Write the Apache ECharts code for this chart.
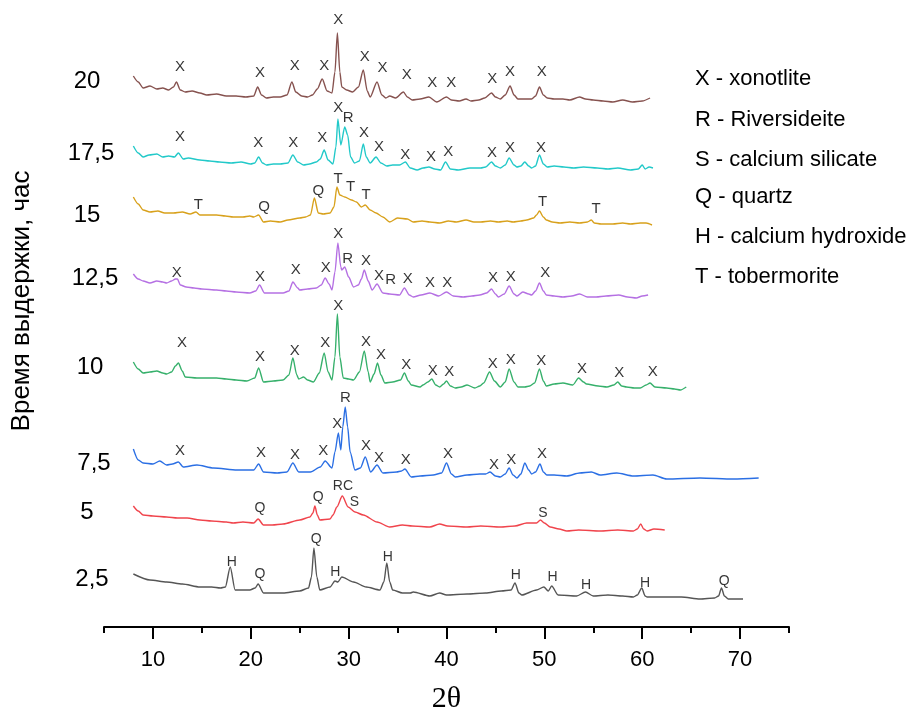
<!DOCTYPE html>
<html>
<head>
<meta charset="utf-8">
<script src="https://cdn.jsdelivr.net/npm/echarts@6/dist/echarts.min.js"></script>
<style>
html,body{margin:0;padding:0;background:#fff;}
#chart{width:915px;height:719px;}
</style>
</head>
<body>
<div id="chart"></div>
<script>
// ---- axis ticks ----
const majorTicks = [10, 20, 30, 40, 50, 60, 70];
const minorTicks = [5, 15, 25, 35, 45, 55, 65, 75];

// ---- sample labels (hours) ----
const sampleLabels = ['20', '17,5', '15', '12,5', '10', '7,5', '5', '2,5'];

// ---- legend lines ----
const phaseLegend = ['X - xonotlite', 'R - Riversideite', 'S - calcium silicate', 'Q - quartz', 'H - calcium hydroxide', 'T - tobermorite'];

// ---- diffractograms: [2theta, intensity (a.u., stacked)] ----
const pattern20 = [[8.0,551],[8.5,545],[9.0,539],[9.7,541],[10.4,538],[11.0,539],[11.6,537],[12.1,540],[12.4,545],[12.8,537],[13.3,535],[14.0,536],[14.8,534],[15.5,532],[16.5,533],[17.5,531],[18.5,531],[19.5,530],[20.3,531],[20.7,540],[21.1,532],[21.6,529],[22.3,530],[23.0,530],[23.7,532],[24.2,545],[24.6,535],[25.2,531],[25.8,530],[26.3,532],[26.8,538],[27.3,548],[27.8,536],[28.3,534],[28.6,555],[28.85,594],[29.1,555],[29.3,540],[29.8,537],[30.4,535],[31.0,540],[31.5,557],[31.9,536],[32.2,530],[32.9,545],[33.4,532],[33.8,529],[34.2,531],[34.8,529],[35.6,535],[36.0,530],[36.5,527],[37.3,528],[38.2,530],[39.0,525],[40.0,530],[40.5,527],[41.3,526],[42.0,528],[42.5,526],[43.3,527],[43.9,529],[44.6,534],[45.0,530],[45.5,528],[46.0,532],[46.5,541],[46.9,532],[47.3,528],[48.0,528],[48.7,528],[49.1,531],[49.5,540],[49.9,532],[50.3,529],[51.0,528],[51.9,528],[52.6,527],[53.6,530],[54.2,528],[55.0,527],[56.0,526],[57.0,525],[58.0,527],[59.0,525],[60.0,526],[60.8,529]];

const pattern17_5 = [[8.0,481],[8.5,474],[9.0,470],[9.6,472],[10.4,473],[11.0,470],[11.6,471],[12.2,470],[12.6,474],[13.1,468],[13.6,469],[14.8,467],[15.8,466],[16.8,465],[18.0,464],[19.0,465],[20.0,463],[20.4,464],[20.8,470],[21.2,464],[21.6,462],[22.3,463],[23.0,463],[23.8,464],[24.3,472],[24.8,465],[25.4,462],[26.0,463],[26.7,465],[27.1,468],[27.5,477],[27.9,467],[28.4,463],[28.7,480],[28.9,508],[29.2,482],[29.6,500],[29.9,492],[30.2,470],[30.6,464],[31.1,466],[31.5,483],[31.8,470],[32.2,464],[32.8,470],[33.3,464],[33.9,461],[34.5,462],[35.2,462],[35.8,465],[36.3,459],[37.0,457],[37.6,459],[38.2,460],[38.8,458],[39.4,457],[39.9,465],[40.4,458],[41.2,457],[42.4,459],[43.5,459],[44.0,460],[44.6,465],[45.0,461],[45.5,459],[46.0,462],[46.4,469],[46.9,462],[47.2,460],[47.6,461],[48.0,465],[48.4,461],[48.7,459],[49.1,461],[49.5,472],[49.9,463],[50.3,460],[51.0,461],[52.0,460],[53.0,459],[54.0,460],[55.4,459],[56.5,458],[57.5,459],[58.8,457],[59.6,458],[60.0,462],[60.3,458],[60.7,460],[61.1,459]];

const pattern15 = [[8.0,430],[8.5,423],[9.0,417],[9.7,415],[10.5,416],[11.2,414],[12.1,414],[13.0,415],[13.8,413],[14.4,415],[14.8,412],[15.5,412],[16.5,412],[17.4,411],[18.2,410],[19.2,410],[19.9,411],[20.3,410],[20.8,412],[21.3,405],[22.0,406],[23.0,405],[23.8,407],[25.0,409],[25.6,410],[26.1,412],[26.5,429],[26.9,414],[27.4,413],[28.1,414],[28.5,420],[28.8,440],[29.1,432],[29.6,430],[30.3,427],[30.8,425],[31.3,420],[31.7,422],[32.2,417],[32.8,414],[33.5,410],[34.2,405],[35.0,409],[36.0,408],[36.6,405],[37.5,406],[38.3,405],[39.3,404],[40.2,406],[41.0,405],[42.0,407],[42.8,405],[43.5,405],[44.5,406],[45.3,405],[46.2,406],[46.8,405],[47.6,406],[48.2,407],[48.9,409],[49.2,412],[49.5,416],[49.9,410],[50.2,407],[50.8,405],[51.6,404],[52.6,405],[53.6,404],[54.4,405],[54.8,407],[55.1,404],[55.8,403],[57.0,403],[58.0,404],[58.8,403],[59.8,404],[60.4,404],[61.0,402]];

const pattern12_5 = [[8.0,353],[8.5,348],[9.0,346],[9.7,344],[10.4,346],[11.0,345],[11.4,344],[11.9,346],[12.3,348],[12.5,348],[12.8,342],[13.4,340],[14.2,339],[15.0,338],[16.5,337],[17.5,336],[18.5,335],[19.9,334],[20.5,336],[20.9,342],[21.4,334],[22.2,334],[23.3,334],[23.9,336],[24.3,345],[24.8,339],[25.0,337],[25.8,338],[26.7,339],[27.2,342],[27.6,349],[28.0,343],[28.3,337],[28.6,355],[28.9,384],[29.2,360],[29.3,357],[29.6,360],[30.0,350],[30.5,340],[31.0,342],[31.3,348],[31.6,357],[32.0,346],[32.4,337],[32.9,343],[33.5,334],[34.2,333],[35.2,332],[35.7,339],[36.2,332],[36.6,330],[37.4,332],[38.3,334],[39.2,331],[40.0,335],[40.7,331],[41.7,330],[42.6,331],[43.4,332],[44.1,334],[44.6,338],[45.0,333],[45.3,330],[45.9,333],[46.4,341],[46.9,333],[47.2,331],[47.8,335],[48.4,333],[48.7,332],[49.1,336],[49.5,344],[49.9,336],[50.2,332],[51.0,331],[51.9,330],[52.8,331],[53.6,333],[54.4,330],[55.3,330],[56.3,331],[57.6,332],[58.5,330],[59.4,329],[60.0,331],[60.6,332]];

const pattern10 = [[8.0,265],[8.5,258],[9.0,254],[9.7,255],[10.4,256],[11.0,254],[11.4,253],[11.9,255],[12.3,261],[12.6,264],[13.0,256],[13.3,250],[14.5,249],[16.5,249],[17.5,248],[18.5,247],[19.6,246],[20.4,249],[20.8,259],[21.3,245],[22.3,246],[23.3,247],[23.9,252],[24.3,269],[24.7,252],[24.9,248],[25.4,250],[25.8,247],[26.4,245],[27.0,254],[27.5,274],[27.9,255],[28.3,247],[28.6,270],[28.85,313],[29.1,270],[29.45,249],[30.0,248],[30.5,247],[31.1,255],[31.6,276],[32.0,255],[32.2,245],[32.6,253],[32.95,264],[33.3,252],[33.7,244],[34.5,245],[35.3,247],[35.7,254],[36.1,246],[36.4,242],[37.3,240],[37.6,242],[38.1,245],[38.5,248],[38.9,242],[39.3,240],[39.7,243],[40.0,246],[40.4,241],[40.9,239],[41.5,240],[42.1,242],[42.9,239],[43.4,241],[43.8,244],[44.4,255],[44.9,246],[45.5,240],[46.0,245],[46.4,258],[46.9,245],[47.3,240],[48.0,240],[48.5,241],[49.0,244],[49.5,258],[49.9,246],[50.2,241],[51.0,243],[51.9,244],[52.9,242],[53.5,249],[54.0,245],[54.3,243],[55.5,241],[56.4,240],[57.1,242],[57.5,245],[57.9,241],[58.4,240],[59.2,239],[59.8,239],[60.4,242],[60.8,244],[61.3,240],[62.5,239],[63.3,238],[63.9,237],[64.5,240]];

const pattern7_5 = [[8.0,178],[8.5,167],[9.0,164],[10.0,163],[10.7,166],[11.4,162],[12.0,163],[12.6,165],[13.1,160],[14.5,162],[16.2,159],[18.6,157],[20.3,157],[20.8,163],[21.3,155],[22.7,154],[23.7,155],[24.3,164],[24.9,155],[26.1,155],[27.1,160],[27.6,166],[28.3,159],[28.6,175],[28.95,194],[29.2,177],[29.4,200],[29.65,220],[29.9,200],[30.15,175],[30.65,157],[31.2,159],[31.7,170],[32.25,155],[32.9,162],[33.5,154],[34.9,155],[35.4,156],[35.75,158],[36.4,150],[37.3,151],[38.65,152],[39.5,154],[40.0,164],[40.5,153],[40.9,150],[42.1,152],[43.4,153],[44.0,153],[44.45,155],[45.0,151],[45.5,150],[46.0,153],[46.4,159],[46.8,152],[47.2,149],[47.6,153],[48.0,164],[48.4,157],[48.7,153],[49.1,155],[49.55,163],[49.9,155],[50.25,152],[51.0,152],[52.3,151],[53.6,154],[54.8,155],[55.7,152],[57.4,154],[59.1,151],[61.1,152],[62.5,148],[65.9,149],[69.3,148],[71.9,149]];

const pattern5 = [[8.0,121],[8.5,116],[9.0,112],[10.0,111],[11.4,110],[12.5,109],[13.5,109],[14.8,107],[16.0,106],[17.5,105],[18.2,104],[19.2,105],[20.3,104],[20.75,108],[21.3,102],[22.2,102],[23.3,103],[25.0,107],[26.05,110],[26.35,114],[26.55,121],[26.8,112],[27.05,107],[28.1,108],[28.4,112],[28.8,120],[29.35,131],[29.95,120],[30.65,115],[31.5,112],[32.9,105],[34.2,100],[35.5,102],[36.5,101],[38.3,100],[39.3,103],[40.1,101],[42.1,100],[43.5,101],[45.5,100],[47.0,101],[48.2,104],[49.2,104],[49.6,107],[50.0,104],[50.6,100],[51.5,98],[52.3,96],[53.5,97],[55.7,96],[57.5,97],[59.1,96],[59.5,98],[59.85,103],[60.15,98],[60.5,96],[61.2,98],[62.3,97]];

const pattern2_5 = [[8.0,53],[9.7,47],[11.4,45],[13.0,43],[14.8,40],[16.0,40],[16.9,39],[17.4,40],[17.9,60],[18.4,37],[19.9,37],[20.45,39],[20.75,43],[21.3,34],[23.3,34],[25.0,36],[25.9,39],[26.2,50],[26.45,79],[26.75,50],[27.05,37],[28.1,40],[28.6,46],[28.9,45],[29.3,50],[30.5,45],[31.8,40],[33.2,37],[33.6,45],[33.9,64],[34.2,45],[34.5,37],[35.5,34],[36.3,34],[36.6,35],[38.3,31],[39.3,34],[40.0,32],[42.1,33],[44.0,34],[45.6,36],[46.6,37],[47.0,44],[47.4,34],[47.7,32],[49.2,37],[49.95,40],[50.4,36],[50.75,41],[51.4,32],[53.3,31],[54.2,35],[55.0,31],[56.5,32],[58.0,31],[59.1,30],[59.5,32],[59.95,39],[60.3,31],[60.5,30],[62.5,30],[64.0,30],[65.9,28],[67.4,29],[67.8,31],[68.1,39],[68.4,31],[68.8,28],[70.3,28]];

// ---- phase annotations: [2theta, level, letter] ----
const notes20 = [[12.77,560,'X'],[20.94,554,'X'],[24.49,561,'X'],[27.51,561,'X'],[28.94,607,'X'],[31.64,570,'X'],[33.46,559,'X'],[35.93,552,'X'],[38.55,544,'X'],[40.49,544,'X'],[44.68,548,'X'],[46.49,555,'X'],[49.73,555,'X']];
const notes17_5 = [[12.77,490,'X'],[20.77,484,'X'],[24.34,484,'X'],[27.31,489,'X'],[28.94,519,'X'],[29.96,509,'R'],[31.57,494,'X'],[33.10,480,'X'],[35.79,472,'X'],[38.41,470,'X'],[40.18,475,'X'],[44.65,474,'X'],[46.49,479,'X'],[49.66,479,'X']];
const notes15 = [[14.64,422,'T'],[21.35,420,'Q'],[26.90,436,'Q'],[28.91,448,'T'],[30.21,440,'T'],[31.77,432,'T'],[49.83,425,'T'],[55.28,418,'T']];
const notes12_5 = [[12.43,354,'X'],[20.94,350,'X'],[24.59,357,'X'],[27.65,359,'X'],[28.94,393,'X'],[29.90,368,'R'],[31.77,366,'X'],[33.10,351,'X'],[34.30,347,'R'],[36.03,348,'X'],[38.31,344,'X'],[40.08,344,'X'],[44.75,349,'X'],[46.56,350,'X'],[50.10,354,'X']];
const notes10 = [[12.97,284,'X'],[20.94,270,'X'],[24.49,276,'X'],[27.61,284,'X'],[28.94,321,'X'],[31.77,285,'X'],[33.31,272,'X'],[35.89,262,'X'],[38.59,256,'X'],[40.28,255,'X'],[44.72,263,'X'],[46.56,267,'X'],[49.69,266,'X'],[53.85,258,'X'],[57.66,254,'X'],[61.07,255,'X']];
const notes7_5 = [[12.77,176,'X'],[21.04,174,'X'],[24.52,172,'X'],[27.41,176,'X'],[28.84,203,'X'],[29.66,229,'R'],[31.77,181,'X'],[33.10,169,'X'],[35.83,167,'X'],[40.15,173,'X'],[44.85,162,'X'],[46.62,167,'X'],[49.76,173,'X']];
const notes5 = [[20.94,119,'Q'],[26.90,130,'Q'],[29.42,141,'RC'],[30.58,125,'S'],[49.86,114,'S']];
const notes2_5 = [[18.05,65,'H'],[20.94,53,'Q'],[26.69,88,'Q'],[28.64,55,'H'],[33.99,70,'H'],[47.07,52,'H'],[50.85,50,'H'],[54.25,42,'H'],[60.28,44,'H'],[68.39,46,'Q']];

const patterns = [pattern20, pattern17_5, pattern15, pattern12_5, pattern10, pattern7_5, pattern5, pattern2_5];
const notes = [notes20, notes17_5, notes15, notes12_5, notes10, notes7_5, notes5, notes2_5];
const colors = ['#86524f', '#22c9c9', '#d8a11c', '#b570e3', '#36b06b', '#2b6fe4', '#f0444c', '#555555'];

const chart = echarts.init(document.getElementById('chart'), null, {renderer: 'canvas'});

const series = [];
patterns.forEach((p, i) => {
  series.push({
    type: 'line', data: p, showSymbol: false, symbol: 'none',
    smooth: 0.25, smoothMonotone: 'x',
    lineStyle: {color: colors[i], width: 1.4}, silent: true, z: 2
  });
});
notes.forEach((n, i) => {
  series.push({
    type: 'scatter', symbolSize: 1, itemStyle: {color: 'rgba(0,0,0,0)'}, silent: true, z: 3,
    data: n.map(d => ({value: [d[0], d[1]], name: d[2]})),
    label: {
      show: true, position: 'inside', formatter: (p) => p.name,
      color: '#000', fontSize: i >= 6 ? 14 : 15, fontFamily: 'Liberation Sans, Arial, sans-serif'
    }
  });
});

// pixel anchors for the hour labels at the left
const sampleLabelPos = [[87, 81], [91, 153], [87, 215], [95, 278], [90, 367], [94, 463], [87, 512], [92, 579]];
const graphics = [];
sampleLabels.forEach((t, i) => {
  graphics.push({type: 'text', x: sampleLabelPos[i][0], y: sampleLabelPos[i][1],
    style: {text: t, font: '24px "Liberation Sans", Arial, sans-serif', fill: '#000', textAlign: 'center', textVerticalAlign: 'middle'}});
});
const legendY = [79, 120, 160, 197, 237, 277];
phaseLegend.forEach((t, i) => {
  graphics.push({type: 'text', x: 695, y: legendY[i],
    style: {text: t, font: '22px "Liberation Sans", Arial, sans-serif', fill: '#000', textAlign: 'left', textVerticalAlign: 'middle'}});
});
graphics.push({type: 'text', x: 22, y: 301, rotation: Math.PI / 2,
  style: {text: 'Время выдержки, час', font: '26px "Liberation Sans", Arial, sans-serif', fill: '#000', textAlign: 'center', textVerticalAlign: 'middle'}});

chart.setOption({
  animation: false,
  backgroundColor: '#fff',
  grid: {left: 104, right: 126, top: 0, bottom: 92, containLabel: false, outerBoundsMode: 'none'},
  xAxis: [{
    type: 'value', min: 5, max: 75, position: 'bottom',
    axisLine: {show: true, onZero: false, lineStyle: {color: '#000', width: 2}},
    axisTick: {show: true, inside: false, length: 12, lineStyle: {color: '#000', width: 2}, customValues: majorTicks},
    axisLabel: {show: true, customValues: majorTicks, fontSize: 22, color: '#000', margin: 22, fontFamily: 'Liberation Sans, Arial, sans-serif'},
    splitLine: {show: false},
    name: '2θ', nameLocation: 'middle', nameGap: 57,
    nameTextStyle: {fontSize: 30, color: '#000', fontFamily: 'Liberation Serif, Times New Roman, serif'}
  }, {
    type: 'value', min: 5, max: 75, position: 'bottom', offset: 0,
    axisLine: {show: false, onZero: false},
    axisTick: {show: true, inside: false, length: 6, lineStyle: {color: '#000', width: 2}, customValues: minorTicks},
    axisLabel: {show: false},
    splitLine: {show: false}
  }],
  yAxis: {type: 'value', min: 0, max: 627, show: false, splitLine: {show: false}},
  series: series,
  graphic: graphics
});
</script>
</body>
</html>
